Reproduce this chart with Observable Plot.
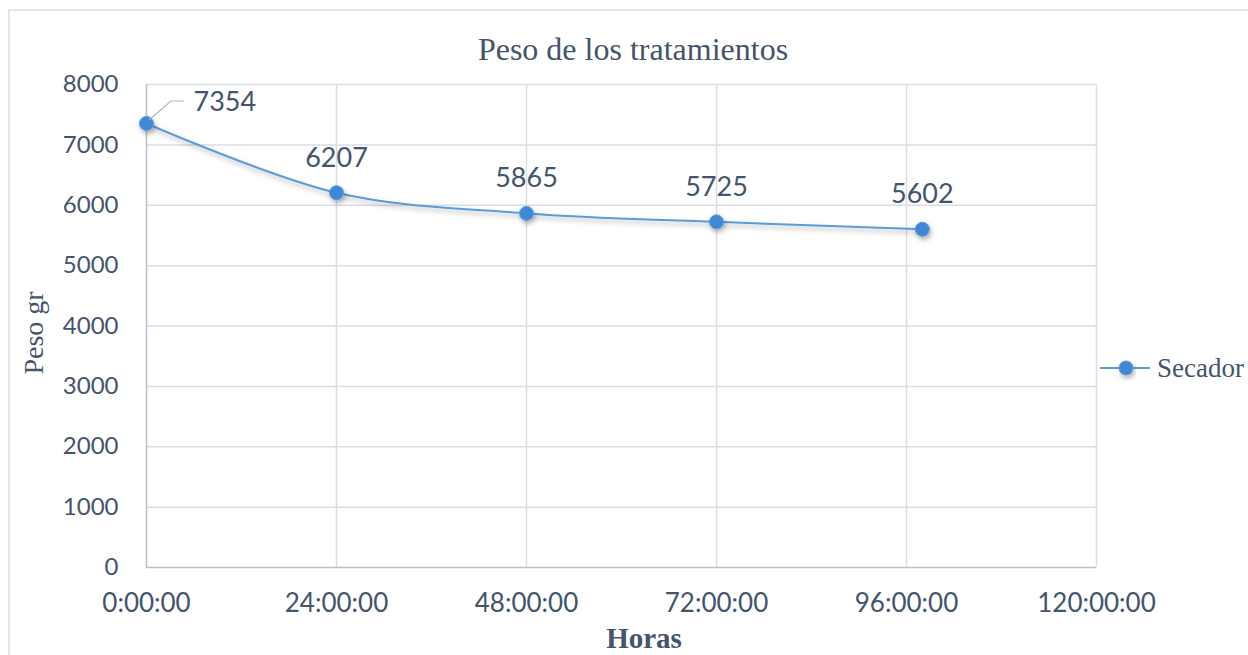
<!DOCTYPE html>
<html>
<head>
<meta charset="utf-8">
<script src="https://cdn.jsdelivr.net/npm/d3@7"></script>
<script src="https://cdn.jsdelivr.net/npm/@observablehq/plot@0.6"></script>
<style>
  html, body { margin: 0; padding: 0; background: #fff; }
  #chart { width: 1248px; height: 655px; overflow: hidden; }
</style>
</head>
<body>
<div id="chart"></div>
<script>
// ---- data ----
const hours = [0, 24, 48, 72, 98];
const peso = [7354, 6207, 5865, 5725, 5602];
const xTicks = [0, 24, 48, 72, 96, 120];
const yTicks = [0, 1000, 2000, 3000, 4000, 5000, 6000, 7000, 8000];
const seriesName = "Secador";
const titleText = "Peso de los tratamientos";
const xLabel = "Horas";
const yLabel = "Peso gr";

const data = hours.map((h, i) => ({h, v: peso[i], i}));

const textColor = "#44546a";
const gridColor = "#d9dee6";
const axisColor = "#b8c0cc";
const lineColor = "#5b9bd5";
const dotColor = "#3f88d6";
const sansFont = "Lato, 'Open Sans', sans-serif";
const serifFont = "'Liberation Serif', 'DejaVu Serif', serif";

const plot = Plot.plot({
  width: 1248,
  height: 655,
  marginLeft: 146,
  marginRight: 152,
  marginTop: 84,
  marginBottom: 88,
  style: {fontFamily: sansFont, color: textColor, background: "transparent"},
  x: {domain: [0, 120], ticks: xTicks, label: null},
  y: {domain: [0, 8000], ticks: yTicks, label: null},
  marks: [
    Plot.gridY(yTicks.filter(d => d > 0), {stroke: gridColor, strokeOpacity: 1, strokeWidth: 1.5}),
    Plot.gridX(xTicks.filter(d => d > 0), {stroke: gridColor, strokeOpacity: 1, strokeWidth: 1.5}),
    Plot.ruleX([0], {stroke: axisColor, strokeWidth: 1.5}),
    Plot.ruleY([0], {stroke: axisColor, strokeWidth: 1.5}),
    Plot.axisY(yTicks, {tickSize: 0, tickPadding: 28, fontSize: 24, fill: textColor, label: null,
      tickFormat: d => String(d)}),
    Plot.axisX(xTicks, {tickSize: 0, tickPadding: 26, fontSize: 26, fill: textColor, label: null,
      tickFormat: d => `${d}:00:00`}),
    Plot.line(data, {x: "h", y: "v", curve: "catmull-rom", stroke: lineColor, strokeWidth: 2}),
    Plot.dot(data, {x: "h", y: "v", r: 7, fill: dotColor, stroke: "#5a9be0", strokeWidth: 1}),
    Plot.text(data.filter(d => d.i > 0), {x: "h", y: "v", text: d => String(d.v), dy: -26,
      lineAnchor: "bottom", fontSize: 27, fill: textColor}),
    Plot.text(data.filter(d => d.i === 0), {x: "h", y: "v", text: d => String(d.v), dx: 47, dy: -13,
      lineAnchor: "bottom", textAnchor: "start", fontSize: 27, fill: textColor})
  ]
});

document.getElementById("chart").appendChild(plot);

const svg = d3.select(plot);
const xs = plot.scale("x"), ys = plot.scale("y");

// drop shadow on line and dots
const defs = svg.insert("defs", ":first-child");
const f = defs.append("filter").attr("id", "shadow").attr("x", "-20%").attr("y", "-20%").attr("width", "140%").attr("height", "160%");
f.append("feDropShadow").attr("dx", 1.5).attr("dy", 3).attr("stdDeviation", 2.5).attr("flood-color", "#000").attr("flood-opacity", 0.3);
svg.selectAll("g[aria-label=line], g[aria-label=dot]").attr("filter", "url(#shadow)");

// outer frame
svg.insert("rect", ":first-child")
  .attr("x", 9).attr("y", 10).attr("width", 1260).attr("height", 680)
  .attr("fill", "#fff").attr("stroke", "#d9dee6").attr("stroke-width", 1.5);

// leader line for first label
const px = xs.apply(hours[0]), py = ys.apply(peso[0]);
svg.append("path")
  .attr("d", `M${px + 3},${py - 3} L${px + 25},${py - 22} L${px + 38},${py - 22}`)
  .attr("fill", "none").attr("stroke", "#b0b6bf").attr("stroke-width", 1.2);

// title
svg.append("text").attr("x", 633).attr("y", 60).attr("text-anchor", "middle")
  .attr("font-family", serifFont).attr("font-size", 32).attr("fill", textColor).text(titleText);

// axis titles
svg.append("text").attr("x", 644).attr("y", 648).attr("text-anchor", "middle")
  .attr("font-family", serifFont).attr("font-size", 29).attr("font-weight", "bold")
  .attr("fill", textColor).text(xLabel);
svg.append("text").attr("transform", "translate(43,333) rotate(-90)").attr("text-anchor", "middle")
  .attr("font-family", serifFont).attr("font-size", 28).attr("fill", textColor).text(yLabel);

// legend
const lg = svg.append("g");
lg.append("line").attr("x1", 1100).attr("x2", 1150).attr("y1", 368).attr("y2", 368)
  .attr("stroke", lineColor).attr("stroke-width", 2);
lg.append("circle").attr("cx", 1126).attr("cy", 368).attr("r", 7)
  .attr("fill", dotColor).attr("stroke", "#5a9be0").attr("filter", "url(#shadow)");
lg.append("text").attr("x", 1157).attr("y", 377).attr("text-anchor", "start")
  .attr("font-family", serifFont).attr("font-size", 27)
  .attr("fill", textColor).text(seriesName);
</script>
</body>
</html>
